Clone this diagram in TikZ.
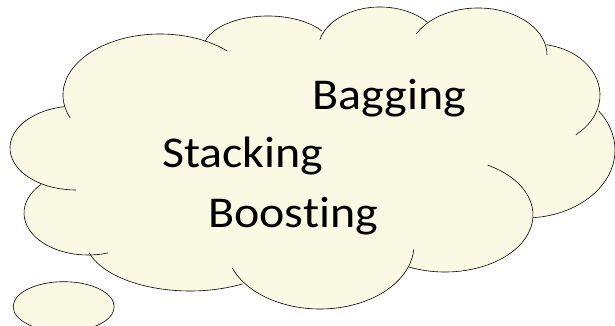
\documentclass[tikz,border=0pt]{standalone}
\usepackage{fontspec}
\setmainfont[Ligatures=NoCommon]{Carlito}
\usepackage{tikz}
\definecolor{cloudyellow}{RGB}{250,250,228}
\newcommand{\widetext}[1]{\scalebox{1.09}[1]{#1}}
\tikzset{
  outline/.style={line width=0.6pt, black},
  word/.style={anchor=base west, inner sep=0pt, font=\fontsize{44}{52}\selectfont}
}

\begin{document}
\begin{tikzpicture}[x=1pt, y=1pt]

        \useasboundingbox (0,0) rectangle (615,326);

        \fill[cloudyellow] (160,231) -- (268,276) -- (380,276) -- (478,271) -- (535,231) -- (525,176)
            -- (445,111) -- (320,81) -- (190,88) -- (88,113) -- (76,178) -- cycle;
        \fill[cloudyellow] (160,231) ellipse[x radius=97pt, y radius=61pt];
        \fill[cloudyellow] (76,178) ellipse[x radius=66pt, y radius=42pt];
        \fill[cloudyellow] (88,113) ellipse[x radius=64pt, y radius=42pt];
        \fill[cloudyellow] (190,88) ellipse[x radius=105pt, y radius=53pt];
        \fill[cloudyellow] (320,81) ellipse[x radius=94pt, y radius=64pt];
        \fill[cloudyellow] (445,111) ellipse[x radius=88pt, y radius=57pt];
        \fill[cloudyellow] (525,176) ellipse[x radius=90pt, y radius=68pt];
        \fill[cloudyellow] (535,231) ellipse[x radius=65pt, y radius=51pt];
        \fill[cloudyellow] (478,271) ellipse[x radius=69pt, y radius=47pt];
        \fill[cloudyellow] (380,276) ellipse[x radius=62pt, y radius=43pt];
        \fill[cloudyellow] (268,276) ellipse[x radius=65pt, y radius=34pt];

        \draw[outline] (160,231) ++(202:97pt and 61pt) arc[start angle=202, end angle=46, x radius=97pt, y radius=61pt];
        \draw[outline] (76,178) ++(100:66pt and 42pt) arc[start angle=100, end angle=270, x radius=66pt, y radius=42pt];
        \draw[outline] (88,113) ++(137:64pt and 42pt) arc[start angle=137, end angle=288, x radius=64pt, y radius=42pt];
        \draw[outline] (190,88) ++(196:105pt and 53pt) arc[start angle=196, end angle=300, x radius=105pt, y radius=53pt];
        \draw[outline] (320,81) ++(201:94pt and 64pt) arc[start angle=201, end angle=356, x radius=94pt, y radius=64pt];
        \draw[outline] (445,111) ++(246:88pt and 57pt) arc[start angle=246, end angle=421, x radius=88pt, y radius=57pt];
        \draw[outline] (525,176) ++(275:90pt and 68pt) arc[start angle=275, end angle=395, x radius=90pt, y radius=68pt];
        \draw[outline] (535,231) ++(80:65pt and 51pt) arc[start angle=80, end angle=-51, x radius=65pt, y radius=51pt];
        \draw[outline] (478,271) ++(153:69pt and 47pt) arc[start angle=153, end angle=0, x radius=69pt, y radius=47pt];
        \draw[outline] (380,276) ++(166:62pt and 43pt) arc[start angle=166, end angle=40, x radius=62pt, y radius=43pt];
        \draw[outline] (268,276) ++(165:65pt and 34pt) arc[start angle=165, end angle=34, x radius=65pt, y radius=34pt];

        \filldraw[outline, fill=cloudyellow] (63.7,19.3) ellipse[x radius=50.5pt, y radius=25pt];

        \node[word] (bagging) at (312.5,216.7) {\widetext{Bagging}};
        \node[word] (stacking) at (162,158) {\widetext{Stacking}};
        \node[word] (boosting) at (208,98) {\widetext{Boosting}};

\end{tikzpicture}
\end{document}
